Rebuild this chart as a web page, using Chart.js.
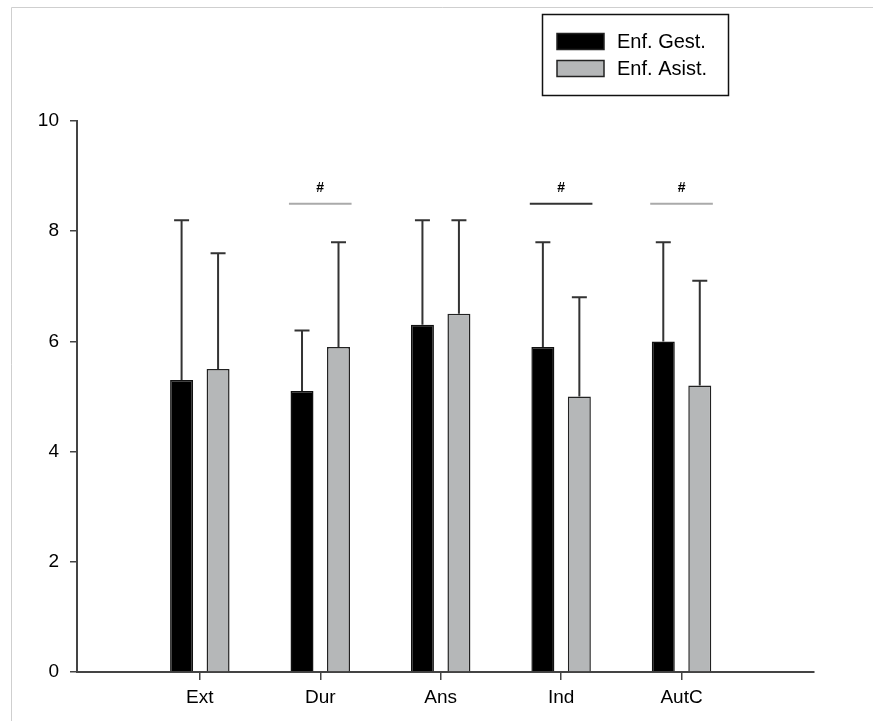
<!DOCTYPE html>
<html>
<head>
<meta charset="utf-8">
<script src="https://cdn.jsdelivr.net/npm/chart.js@4/dist/chart.umd.min.js"></script>
<style>
  html, body { margin: 0; padding: 0; background: #fff; }
  #wrap { position: relative; width: 873px; height: 721px; }
  canvas { display: block; }
</style>
</head>
<body>
<div id="wrap"><canvas id="chart" width="873" height="721"></canvas></div>
<script>
// Categories and group means with their standard deviations
const categories = ['Ext', 'Dur', 'Ans', 'Ind', 'AutC'];
const gestMean  = [5.3, 5.1, 6.3, 5.9, 6.0];
const gestSD    = [2.9, 1.1, 1.9, 1.9, 1.8];
const asistMean = [5.5, 5.9, 6.5, 5.0, 5.2];
const asistSD   = [2.1, 1.9, 1.7, 1.8, 1.9];
const seriesNames = ['Enf. Gest.', 'Enf. Asist.'];
const yTicks = [0, 2, 4, 6, 8, 10];

// Categories with a significant difference between groups (#)
const sigCategories = ['Dur', 'Ind', 'AutC'];
const sigLevel = 8.5;

const FONT = 'Arial, "Liberation Sans", sans-serif';
const AXIS = '#444';

function points(values) {
  return values.map((v, i) => ({ x: i + 1, y: v }));
}

// Upper error bars (mean + SD) on every bar
const errorBars = {
  id: 'errorBars',
  afterDatasetsDraw(chart) {
    const ctx = chart.ctx;
    const y = chart.scales.y;
    ctx.save();
    ctx.strokeStyle = '#333';
    ctx.lineWidth = 2;
    chart.data.datasets.forEach((ds, di) => {
      const meta = chart.getDatasetMeta(di);
      meta.data.forEach((bar, i) => {
        const top = y.getPixelForValue(ds.data[i].y + ds.sd[i]);
        ctx.beginPath();
        ctx.moveTo(bar.x, bar.y);
        ctx.lineTo(bar.x, top);
        ctx.moveTo(bar.x - 7.5, top);
        ctx.lineTo(bar.x + 7.5, top);
        ctx.stroke();
      });
    });
    ctx.restore();
  }
};

// Significance lines with the "#" mark
const significance = {
  id: 'significance',
  afterDatasetsDraw(chart, args, opts) {
    const ctx = chart.ctx;
    const xs = chart.scales.x, ys = chart.scales.y;
    ctx.save();
    opts.marks.forEach(m => {
      const c = categories.indexOf(m.category) + 1;
      const x0 = xs.getPixelForValue(c - 0.26);
      const x1 = xs.getPixelForValue(c + 0.26);
      const yl = ys.getPixelForValue(sigLevel);
      ctx.strokeStyle = m.color;
      ctx.lineWidth = 2;
      ctx.beginPath();
      ctx.moveTo(x0, yl);
      ctx.lineTo(x1, yl);
      ctx.stroke();
      ctx.fillStyle = '#000';
      ctx.font = 'bold 14px ' + FONT;
      ctx.textAlign = 'center';
      ctx.textBaseline = 'middle';
      ctx.fillText('#', (x0 + x1) / 2, yl - 16);
    });
    ctx.restore();
  }
};

// Boxed legend and the page frame
const frameAndLegend = {
  id: 'frameAndLegend',
  beforeDraw(chart) {
    const ctx = chart.ctx;
    ctx.save();
    ctx.fillStyle = '#fff';
    ctx.fillRect(0, 0, chart.width, chart.height);
    ctx.strokeStyle = '#cfcfcf';
    ctx.lineWidth = 1;
    ctx.beginPath();
    ctx.moveTo(11.5, chart.height);
    ctx.lineTo(11.5, 7.5);
    ctx.lineTo(chart.width, 7.5);
    ctx.stroke();
    ctx.restore();
  },
  afterDraw(chart) {
    const ctx = chart.ctx;
    ctx.save();
    ctx.strokeStyle = '#111';
    ctx.lineWidth = 1.5;
    ctx.strokeRect(542.5, 14.5, 186, 81);
    chart.data.datasets.forEach((ds, i) => {
      const top = 33.5 + i * 27;
      ctx.fillStyle = ds.backgroundColor;
      ctx.fillRect(557, top, 47, 16);
      ctx.strokeStyle = '#222';
      ctx.lineWidth = 1.5;
      ctx.strokeRect(557, top, 47, 16);
      ctx.fillStyle = '#000';
      ctx.font = '20px ' + FONT;
      ctx.textAlign = 'left';
      ctx.textBaseline = 'middle';
      ctx.fillText(ds.label, 617, top + 8.5);
    });
    ctx.restore();
  }
};

new Chart(document.getElementById('chart'), {
  type: 'bar',
  data: {
    datasets: [
      { label: seriesNames[0], data: points(gestMean), sd: gestSD,
        backgroundColor: '#000000', borderColor: '#111', borderWidth: 1.5,
        categoryPercentage: 0.606, barPercentage: 0.63 },
      { label: seriesNames[1], data: points(asistMean), sd: asistSD,
        backgroundColor: '#b5b7b8', borderColor: '#222', borderWidth: 1.5,
        categoryPercentage: 0.606, barPercentage: 0.63 }
    ]
  },
  options: {
    responsive: false,
    animation: false,
    layout: { padding: { top: 121, right: 59, left: 0, bottom: 0 } },
    plugins: {
      legend: { display: false },
      tooltip: { enabled: false },
      significance: {
        marks: [
          { category: sigCategories[0], color: '#aaaaaa' },
          { category: sigCategories[1], color: '#333333' },
          { category: sigCategories[2], color: '#aaaaaa' }
        ]
      }
    },
    scales: {
      x: {
        type: 'linear',
        min: -0.02,
        max: 6.1,
        offset: false,
        afterFit(s) { s.height = 49; },
        afterBuildTicks(s) { s.ticks = categories.map((c, i) => ({ value: i + 1 })); },
        grid: { offset: false, drawOnChartArea: false, drawTicks: true, tickLength: 8, color: AXIS, lineWidth: 1.5 },
        border: { display: true, color: AXIS, width: 2 },
        ticks: {
          autoSkip: false,
          maxRotation: 0,
          padding: 6,
          color: '#000',
          font: { family: FONT, size: 19 },
          callback: v => categories[v - 1]
        }
      },
      y: {
        min: 0,
        max: 10,
        afterFit(s) { s.width = 77; },
        afterBuildTicks(s) { s.ticks = yTicks.map(v => ({ value: v })); },
        grid: { drawOnChartArea: false, drawTicks: true, tickLength: 7, color: AXIS, lineWidth: 1.5 },
        border: { display: true, color: AXIS, width: 2 },
        ticks: {
          padding: 11,
          color: '#000',
          font: { family: FONT, size: 19 }
        }
      }
    }
  },
  plugins: [errorBars, significance, frameAndLegend]
});
</script>
</body>
</html>
